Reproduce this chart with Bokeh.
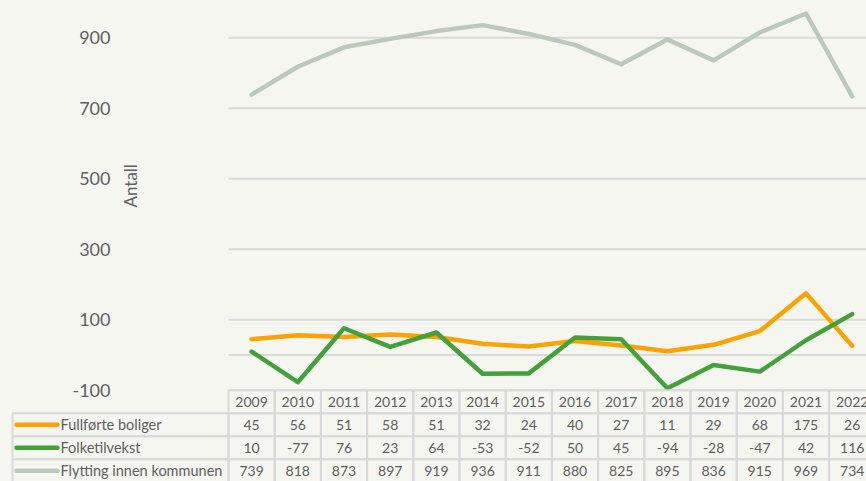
import math
from bokeh.plotting import figure
from bokeh.models import Range1d, ColumnDataSource
from bokeh.embed import file_html
from bokeh.resources import INLINE
from bokeh.core.properties import value

# ---------------- data ----------------
years = [2009, 2010, 2011, 2012, 2013, 2014, 2015, 2016, 2017, 2018, 2019, 2020, 2021, 2022]
series_names = ["Fullførte boliger", "Folketilvekst", "Flytting innen kommunen"]
fullforte_boliger = [45, 56, 51, 58, 51, 32, 24, 40, 27, 11, 29, 68, 175, 26]
folketilvekst = [10, -77, 76, 23, 64, -53, -52, 50, 45, -94, -28, -47, 42, 116]
flytting_innen_kommunen = [739, 818, 873, 897, 919, 936, 911, 880, 825, 895, 836, 915, 969, 734]
series_values = [fullforte_boliger, folketilvekst, flytting_innen_kommunen]
series_colors = ["#FFA200", "#43A03A", "#BCC8BC"]
y_tick_values = [-100, 100, 300, 500, 700, 900]
grid_values = [-100, 0, 100, 300, 500, 700, 900]
y_axis_title = "Antall"

# ---------------- style / layout constants ----------------
BG = "#f6f6f1"
GRID = "#d9d9d9"
TXT = "#5e5e5e"
FONT = "Lato"

W, H = 866, 481
COL_PX = 46.2            # width of one year column (px)
PLOT_LEFT = 228          # left edge of plot area (px)
TABLE_LEFT = 12          # left edge of data table (px)
TOP_TICK_PX = 37.3       # pixel row of the top gridline
PX_PER_UNIT = 70.5 / 200 # vertical scale of the chart
ROW_H = 23               # table row height (px)
TICK_LABEL_GAP = 118     # px between tick label right edge and plot area
TITLE_GAP = 98           # px between axis-title centre and plot area
TITLE_VALUE = 480        # data value at which the axis title is centred

x0 = years[0] - 0.5
x_start = x0 - PLOT_LEFT / COL_PX
x_end = x0 + (W - PLOT_LEFT) / COL_PX
top_val = y_tick_values[-1]
y_end = top_val + TOP_TICK_PX / PX_PER_UNIT
y_start = top_val - (H - TOP_TICK_PX) / PX_PER_UNIT

# table rows: header row = -1, series rows 0..2 ; header top edge sits on the bottom gridline
header_top_px = TOP_TICK_PX + (top_val - y_tick_values[0]) * PX_PER_UNIT
t_end = -1.5 - header_top_px / ROW_H
t_start = t_end + H / ROW_H

p = figure(width=W, height=H, output_backend="svg", toolbar_location=None,
           x_range=Range1d(x_start, x_end), y_range=Range1d(y_start, y_end),
           x_axis_location=None, y_axis_location=None,
           min_border=0)
p.extra_y_ranges = {"table": Range1d(t_start, t_end)}
p.background_fill_color = BG
p.border_fill_color = BG
p.outline_line_color = None
p.grid.visible = False

# gridlines of the plot area
p.segment(x0=[x0] * len(grid_values), y0=grid_values,
          x1=[x_end + 1] * len(grid_values), y1=grid_values,
          line_color=GRID, line_width=2)

# series lines
for vals, col in zip(series_values, series_colors):
    p.line(years, vals, line_color=col, line_width=4.5, line_join="round", line_cap="round")

# y tick labels
p.text(x=[x0 - TICK_LABEL_GAP / COL_PX] * len(y_tick_values), y=y_tick_values,
       text=[str(v) for v in y_tick_values], text_align="right", text_baseline="middle",
       text_font=value(FONT), text_font_size="18px", text_color=TXT)

# axis title
p.text(x=[x0 - TITLE_GAP / COL_PX], y=[TITLE_VALUE], text=[y_axis_title], angle=math.pi / 2,
       text_align="center", text_baseline="middle",
       text_font=value(FONT), text_font_size="17px", text_color=TXT)

# ---------------- data table ----------------
# header row (years)
head = ColumnDataSource(dict(x=years, y=[-1] * len(years), text=[str(y) for y in years]))
p.rect(x="x", y="y", width=1, height=1, source=head, y_range_name="table",
       fill_color=None, line_color=GRID, line_width=2)
p.text(x="x", y="y", text="text", source=head, y_range_name="table",
       text_align="center", text_baseline="middle",
       text_font=value(FONT), text_font_size="14px", text_color=TXT)

# value cells
cx, cy, ctext = [], [], []
for r, vals in enumerate(series_values):
    for yr, v in zip(years, vals):
        cx.append(yr)
        cy.append(r)
        ctext.append(str(v))
cells = ColumnDataSource(dict(x=cx, y=cy, text=ctext))
p.rect(x="x", y="y", width=1, height=1, source=cells, y_range_name="table",
       fill_color=None, line_color=GRID, line_width=2)
p.text(x="x", y="y", text="text", source=cells, y_range_name="table",
       text_align="center", text_baseline="middle",
       text_font=value(FONT), text_font_size="14px", text_color=TXT)

# legend / label column
label_left = x0 - (PLOT_LEFT - TABLE_LEFT) / COL_PX
rows = list(range(len(series_names)))
n = len(rows)
lab = ColumnDataSource(dict(
    xc=[(label_left + x0) / 2] * n, y=rows, name=series_names, color=series_colors,
    kx0=[label_left + 4 / COL_PX] * n, kx1=[label_left + 45 / COL_PX] * n,
    tx=[label_left + 48 / COL_PX] * n))
p.rect(x="xc", y="y", width=x0 - label_left, height=1, source=lab, y_range_name="table",
       fill_color=None, line_color=GRID, line_width=2)
p.segment(x0="kx0", y0="y", x1="kx1", y1="y", source=lab, y_range_name="table",
          line_color="color", line_width=4.5, line_cap="round")
p.text(x="tx", y="y", text="name", source=lab, y_range_name="table",
       text_align="left", text_baseline="middle",
       text_font=value(FONT), text_font_size="14.5px", text_color=TXT)

html = file_html(p, INLINE)
html = html.replace("<head>", "<head><style>html,body{background:%s;}</style>" % BG, 1)
open("out.html", "w").write(html)
